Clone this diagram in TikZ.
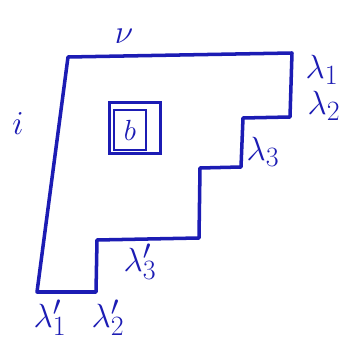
\documentclass[tikz,border=0pt]{standalone}
\definecolor{tintaAzul}{HTML}{1C1CB4}
\definecolor{papel}{HTML}{FFFFFF}
\usepackage{tikz}
\usetikzlibrary{
	arrows.meta,
	positioning,
	calc
}
\tikzset{
	contorno/.style={
		draw=tintaAzul,
		line width=3pt,
		line join=round,
		line cap=round
	},
	celda/.style={
		draw=tintaAzul,
		line width=2.8pt,
		minimum size=1.55cm,
		inner sep=0pt
	},
	caja/.style={
		draw=tintaAzul,
		line width=2pt,
		minimum width=0.95cm,
		minimum height=1.2cm,
		inner sep=1pt,
		text=tintaAzul,
		font=\Huge
	},
	etiqueta/.style={
		text=tintaAzul,
		inner sep=1pt,
		font=\Huge,
		scale=1.15
	}
}

\begin{document}
\begin{tikzpicture}[x=0.03cm, y=-0.03cm]
		\useasboundingbox[fill=papel] (0,0) rectangle (355,343);
		% diagrama escalonado
		\draw[contorno] (68,57) -- (292,53) -- (290,117) -- (243,118) -- (241,167)
			-- (200,168) -- (199,238) -- (97,240) -- (96,292) -- (37,292) -- cycle;
		\node[celda] (cuadro) at (135,128) {};
		\node[caja] (b) at (130,130) {$b$};
		\node[etiqueta] (nu) at (124,36) {$\nu$};
		\node[etiqueta] (i) at (18,124) {$i$};
		\node[etiqueta] (l1) at (322,70) {$\lambda_1$};
		\node[etiqueta] (l2) at (324,106) {$\lambda_2$};
		\node[etiqueta] (l3) at (263,152) {$\lambda_3$};
		\node[etiqueta] (m3) at (140,262) {$\lambda'_3$};
		\node[etiqueta] (m1) at (50,318) {$\lambda'_1$};
		\node[etiqueta] (m2) at (108,318) {$\lambda'_2$};
	\end{tikzpicture}
\end{document}
